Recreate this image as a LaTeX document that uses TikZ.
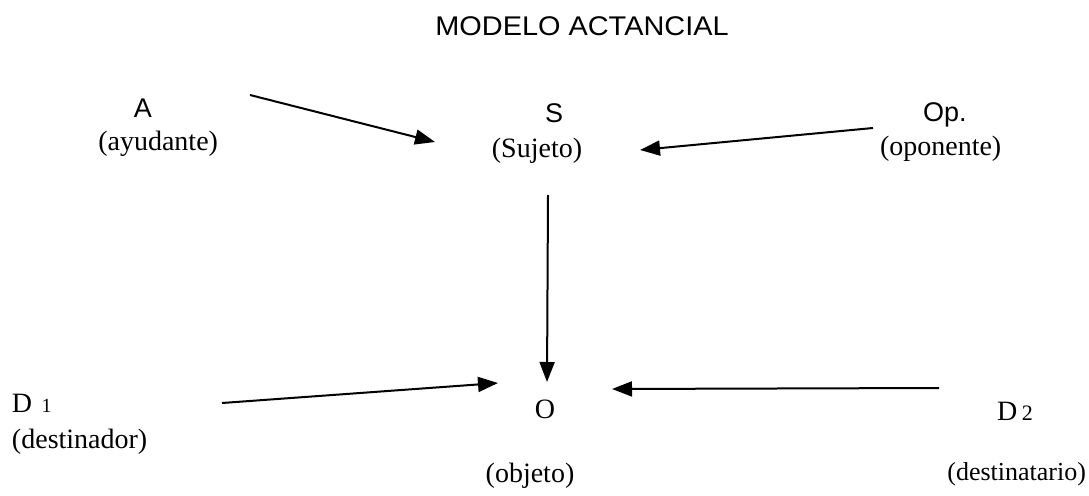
\documentclass[tikz,border=0pt]{standalone}
\usepackage{fontspec}
\setmainfont{Liberation Serif}
\setsansfont{Liberation Sans}
\usetikzlibrary{arrows.meta}
\tikzset{
  lbl/.style={inner sep=0pt, outer sep=0pt, font=\sffamily\fontsize{27}{27}\selectfont},
  gloss/.style={inner sep=0pt, outer sep=0pt, font=\rmfamily\fontsize{28}{28}\selectfont},
  conn/.style={line width=2pt, -{Triangle[length=20pt,width=15pt]}},
}
\begin{document}
\begin{tikzpicture}[x=1pt,y=-1pt]
\useasboundingbox (0,0) rectangle (1089,495);
\fill[white] (0,0) rectangle (1089,495);
% title
\node[inner sep=0pt, anchor=base, font=\sffamily\fontsize{27}{27}\selectfont, xscale=1.07] (title) at (582,36) {MODELO ACTANCIAL};
% actants
\node[lbl, anchor=base] (A) at (143,117) {A};
\node[gloss, anchor=base east] (ayu) at (218,150) {(ayudante)};
\node[lbl, anchor=base] (S) at (554,122) {S};
\node[gloss, anchor=base] (suj) at (537,157) {(Sujeto)};
\node[lbl, anchor=base west] (Op) at (923,121) {Op.};
\node[gloss, anchor=base west] (opo) at (880,155) {(oponente)};
\node[gloss, anchor=base west] (D1) at (12,412) {D\,\,{\fontsize{20}{20}\selectfont 1}};
\node[gloss, anchor=base west] (des) at (12,448) {(destinador)};
\node[gloss, anchor=base] (O) at (545,418) {O};
\node[gloss, anchor=base] (obj) at (530,482) {(objeto)};
\node[gloss, anchor=base west] (D2) at (997,420) {D\,{\fontsize{22}{22}\selectfont 2}};
\node[gloss, anchor=base east, font=\rmfamily\fontsize{26}{26}\selectfont] (dst) at (1086,480) {(destinatario)};
% connector ends
\coordinate (aS) at (250,95);
\coordinate (aE) at (435,142);
\coordinate (oS) at (873,128);
\coordinate (oE) at (640,150);
\coordinate (sS) at (548,195);
\coordinate (sE) at (547,382);
\coordinate (d1S) at (222,403);
\coordinate (d1E) at (498,383);
\coordinate (d2S) at (939,388);
\coordinate (d2E) at (612,389);
\draw[conn] (aS) -- (aE);
\draw[conn] (oS) -- (oE);
\draw[conn] (sS) -- (sE);
\draw[conn] (d1S) -- (d1E);
\draw[conn] (d2S) -- (d2E);
\end{tikzpicture}
\end{document}
